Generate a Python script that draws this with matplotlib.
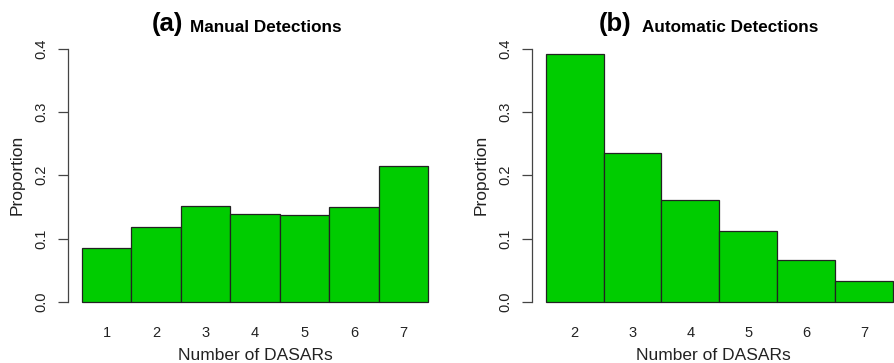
import matplotlib
matplotlib.use('Agg')
import matplotlib.pyplot as plt

plt.rcParams['font.family'] = ['Liberation Sans', 'DejaVu Sans']

manual_dasars = ['1', '2', '3', '4', '5', '6', '7']
manual_props = [0.085, 0.119, 0.151, 0.139, 0.138, 0.150, 0.215]

auto_dasars = ['2', '3', '4', '5', '6', '7']
auto_props = [0.391, 0.235, 0.161, 0.112, 0.067, 0.033]

bar_color = '#00CC00'
W, H = 894, 363


def px_axes(left, right, top, bottom):
    return [left / W, 1 - bottom / H, (right - left) / W, (bottom - top) / H]


def draw_panel(ax, labels, values, xlim):
    x = list(range(len(values)))
    ax.bar(x, values, width=1.0, color=bar_color, edgecolor='#222222', linewidth=0.9)
    ax.set_xlim(*xlim)
    ax.set_ylim(-0.016, 0.416)
    for side in ['top', 'right', 'bottom']:
        ax.spines[side].set_visible(False)
    ax.spines['left'].set_bounds(0, 0.4)
    ax.spines['left'].set_color('#444444')
    ax.spines['left'].set_linewidth(0.9)
    ax.set_yticks([0.0, 0.1, 0.2, 0.3, 0.4])
    ax.set_yticklabels(['0.0', '0.1', '0.2', '0.3', '0.4'], rotation=90, va='center')
    ax.tick_params(axis='y', length=7, width=0.9, color='#444444', pad=7,
                   labelsize=10.5, labelcolor='#222222')
    ax.set_xticks(x)
    ax.set_xticklabels(labels)
    ax.tick_params(axis='x', length=0, pad=10, labelsize=10.5, labelcolor='#222222')
    ax.set_ylabel('Proportion', fontsize=12.5, color='#222222', labelpad=7)
    ax.set_xlabel('Number of DASARs', fontsize=12.5, color='#222222', labelpad=6)


fig = plt.figure(figsize=(W / 100, H / 100), dpi=100)

ax1 = fig.add_axes(px_axes(68, 442, 38.4, 312.1))
draw_panel(ax1, manual_dasars, manual_props, (-0.78, 6.78))

ax2 = fig.add_axes(px_axes(532, 894, 38.4, 312.1))
draw_panel(ax2, auto_dasars, auto_props, (-0.74, 5.522))

ty = 1 - 31.5 / H
fig.text(151.5 / W, ty, '(a)', fontsize=18.5, fontweight='bold', va='baseline', ha='left')
fig.text(189.5 / W, ty, 'Manual Detections', fontsize=12.3, fontweight='bold', va='baseline', ha='left')
fig.text(598.5 / W, ty, '(b)', fontsize=18.5, fontweight='bold', va='baseline', ha='left')
fig.text(641.5 / W, ty, 'Automatic Detections', fontsize=12.3, fontweight='bold', va='baseline', ha='left')

fig.savefig('out.png', dpi=100)
